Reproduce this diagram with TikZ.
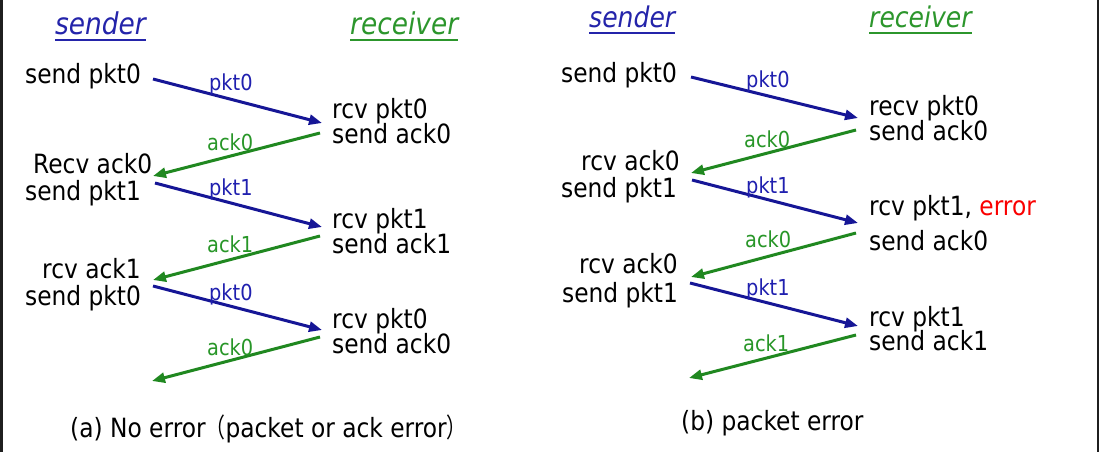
\documentclass[tikz,border=0pt]{standalone}
\usepackage{fontspec}
\usepackage{graphicx}
\setmainfont{DejaVu Sans}[FakeStretch=0.88]
\newfontfamily\cjk{Noto Sans CJK SC}
\usetikzlibrary{arrows.meta}

\definecolor{pktblue}{RGB}{22,22,150}
\definecolor{pktlbl}{RGB}{32,32,175}
\definecolor{ackgreen}{RGB}{32,136,32}
\definecolor{acklbl}{RGB}{40,150,40}
\definecolor{ttlblue}{RGB}{36,36,170}
\definecolor{ttlgreen}{RGB}{44,150,44}
\definecolor{errred}{RGB}{250,0,0}

% narrowed full-width parentheses for the caption
\newcommand{\fwopen}{\scalebox{0.75}[1]{\cjk （}}
\newcommand{\fwclose}{\scalebox{0.75}[1]{\cjk ）}}

\tikzset{
  txt/.style={inner sep=0pt, anchor=base west, font=\fontsize{26.5}{30}\selectfont},
  lbl/.style={inner sep=0pt, anchor=base west, font=\fontsize{22}{24}\selectfont},
  ttl/.style={inner sep=0pt, anchor=base west, font=\fontsize{30}{34}\selectfont\itshape},
  ttlr/.style={ttl, font=\fontsize{28.5}{32}\selectfont\itshape},
  pktarrow/.style={draw=pktblue, line width=3pt, -{Triangle[length=13pt,width=10pt]}},
  ackarrow/.style={draw=ackgreen, line width=3pt, -{Triangle[length=13pt,width=10pt]}},
  uline/.style={line width=1.8pt},
}

\begin{document}
\begin{tikzpicture}[x=1pt,y=-1pt]
\useasboundingbox (0,0) rectangle (1099,452);
\fill[white] (0,0) rectangle (1099,452);
% frame edges
\fill[black!88] (0,0) rectangle (2.5,452);
\fill[black!88] (1096.5,0) rectangle (1099,452);

% ---------------- (a) no error ----------------
\node[ttl, text=ttlblue] (sa) at (55,35) {sender};
\node[ttl, text=ttlgreen] (ra) at (350,35) {receiver};
\draw[uline, ttlblue] ([yshift=-5pt]sa.base west) -- ([yshift=-5pt]sa.base east);
\draw[uline, ttlgreen] ([yshift=-5pt]ra.base west) -- ([yshift=-5pt]ra.base east);

\node[txt] (a1) at (25,83) {send pkt0};
\node[txt] (a2) at (332,118) {rcv pkt0};
\node[txt] (a3) at (332,143) {send ack0};
\node[txt] (a4) at (33,173) {Recv ack0};
\node[txt] (a5) at (25,200) {send pkt1};
\node[txt] (a6) at (332,228) {rcv pkt1};
\node[txt] (a7) at (332,253) {send ack1};
\node[txt] (a8) at (42,278) {rcv ack1};
\node[txt] (a9) at (25,305) {send pkt0};
\node[txt] (a10) at (332,328) {rcv pkt0};
\node[txt] (a11) at (332,353) {send ack0};

\coordinate (ap1s) at (153,79);  \coordinate (ap1e) at (322,123);
\coordinate (aa1s) at (320,133); \coordinate (aa1e) at (153,176);
\coordinate (ap2s) at (155,183); \coordinate (ap2e) at (322,227);
\coordinate (aa2s) at (320,236); \coordinate (aa2e) at (153,280);
\coordinate (ap3s) at (153,286); \coordinate (ap3e) at (322,330);
\coordinate (aa3s) at (320,337); \coordinate (aa3e) at (152,381);

\draw[pktarrow] (ap1s) -- (ap1e);
\draw[ackarrow] (aa1s) -- (aa1e);
\draw[pktarrow] (ap2s) -- (ap2e);
\draw[ackarrow] (aa2s) -- (aa2e);
\draw[pktarrow] (ap3s) -- (ap3e);
\draw[ackarrow] (aa3s) -- (aa3e);

\node[lbl, text=pktlbl] (al1) at (209,90) {pkt0};
\node[lbl, text=acklbl] (al2) at (207,150) {ack0};
\node[lbl, text=pktlbl] (al3) at (209,195) {pkt1};
\node[lbl, text=acklbl] (al4) at (207,252) {ack1};
\node[lbl, text=pktlbl] (al5) at (209,300) {pkt0};
\node[lbl, text=acklbl] (al6) at (207,355) {ack0};

\node[txt] (capa) at (70,437) {(a) No error\fwopen packet or ack error\fwclose};

% ---------------- (b) packet error ----------------
\node[ttlr, text=ttlblue] (sb) at (589,28) {sender};
\node[ttlr, text=ttlgreen] (rb) at (869,28) {receiver};
\draw[uline, ttlblue] ([yshift=-5pt]sb.base west) -- ([yshift=-5pt]sb.base east);
\draw[uline, ttlgreen] ([yshift=-5pt]rb.base west) -- ([yshift=-5pt]rb.base east);

\node[txt] (b1) at (561,82) {send pkt0};
\node[txt] (b2) at (869,115) {recv pkt0};
\node[txt] (b3) at (869,140) {send ack0};
\node[txt] (b4) at (581,170) {rcv ack0};
\node[txt] (b5) at (561,197) {send pkt1};
\node[txt] (b6) at (869,215) {rcv pkt1, \textcolor{errred}{error}};
\node[txt] (b7) at (869,250) {send ack0};
\node[txt] (b8) at (579,273) {rcv ack0};
\node[txt] (b9) at (562,302) {send pkt1};
\node[txt] (b10) at (869,326) {rcv pkt1};
\node[txt] (b11) at (869,350) {send ack1};

\coordinate (bp1s) at (691,77);  \coordinate (bp1e) at (858,118);
\coordinate (ba1s) at (856,130); \coordinate (ba1e) at (691,173);
\coordinate (bp2s) at (692,180); \coordinate (bp2e) at (858,223);
\coordinate (ba2s) at (856,233); \coordinate (ba2e) at (691,277);
\coordinate (bp3s) at (690,283); \coordinate (bp3e) at (858,326);
\coordinate (ba3s) at (856,335); \coordinate (ba3e) at (689,378);

\draw[pktarrow] (bp1s) -- (bp1e);
\draw[ackarrow] (ba1s) -- (ba1e);
\draw[pktarrow] (bp2s) -- (bp2e);
\draw[ackarrow] (ba2s) -- (ba2e);
\draw[pktarrow] (bp3s) -- (bp3e);
\draw[ackarrow] (ba3s) -- (ba3e);

\node[lbl, text=pktlbl] (bl1) at (746,87) {pkt0};
\node[lbl, text=acklbl] (bl2) at (744,147) {ack0};
\node[lbl, text=pktlbl] (bl3) at (746,193) {pkt1};
\node[lbl, text=acklbl] (bl4) at (745,247) {ack0};
\node[lbl, text=pktlbl] (bl5) at (746,295) {pkt1};
\node[lbl, text=acklbl] (bl6) at (743,351) {ack1};

\node[txt] (capb) at (681,430) {(b) packet error};
\end{tikzpicture}
\end{document}
